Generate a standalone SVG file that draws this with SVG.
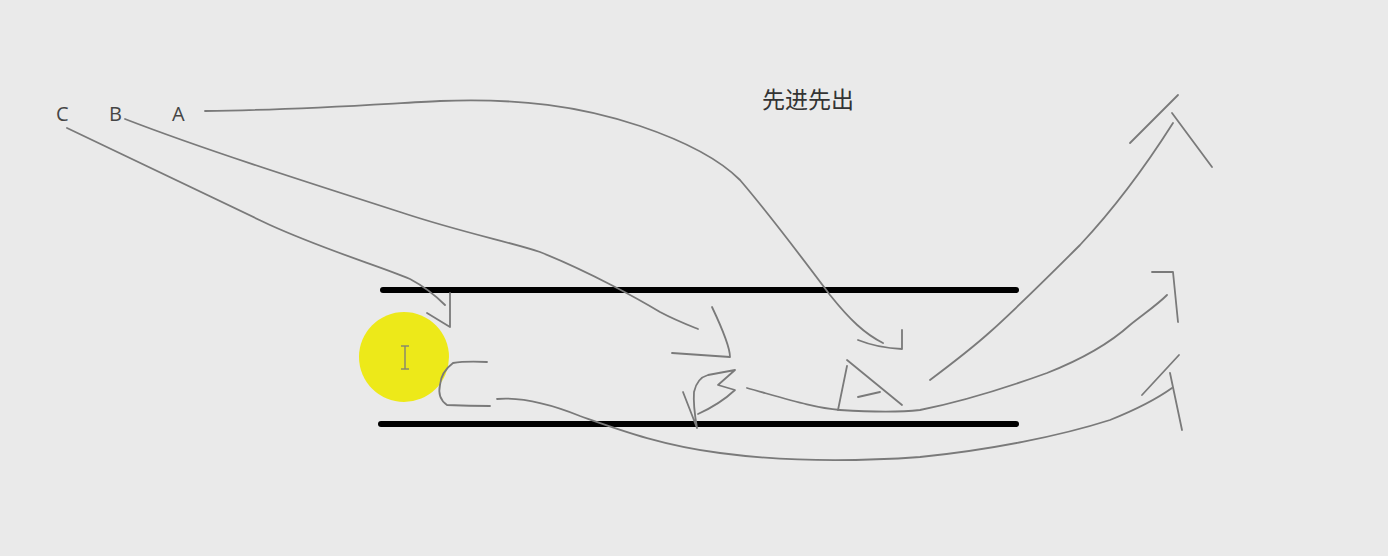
<svg xmlns="http://www.w3.org/2000/svg" width="1388" height="556" viewBox="0 0 1388 556">
<style>
.lbl{font-family:"Open Sans","Liberation Sans","Noto Sans CJK SC",sans-serif;fill:#454545}
.ttl{font-family:"Noto Sans CJK SC","Liberation Sans",sans-serif;fill:#333;font-size:23px}
.ink{fill:none;stroke:#7a7a7a;stroke-width:1.8;stroke-linecap:round;stroke-linejoin:round}
.bar{stroke:#000;stroke-width:6;stroke-linecap:round}
</style>
<rect width="1388" height="556" fill="#eaeaea"/>
<g id="title"><text class="ttl" x="762" y="108">先进先出</text></g>
<g id="node-C"><text class="lbl" x="56" y="121" font-size="20">C</text></g>
<g id="node-B"><text class="lbl" x="109" y="121" font-size="20">B</text></g>
<g id="node-A"><text class="lbl" x="172" y="121" font-size="20">A</text></g>
<g id="queue">
<line class="bar" x1="383" y1="290" x2="1016" y2="290"/>
<line class="bar" x1="381" y1="424" x2="1016" y2="424"/>
</g>
<g id="cursor">
<circle cx="404" cy="357" r="45" fill="#ede919"/>
<path d="M401,346 H409 M405,346 V369 M401,369 H409" fill="none" stroke="#8a8a6a" stroke-width="1.5"/>
</g>
<g id="connectors">
<path class="ink" d="M205,111 C300,110 380,104 440,101 C520,98 580,106 640,126 C690,143 720,160 740,180 C770,215 800,255 830,295 C850,320 865,334 883,343"/>
<path class="ink" d="M858,340 Q878,348 902,349 L902,330"/>
<path class="ink" d="M125,119 C200,148 300,180 400,212 C460,232 510,242 540,252 C590,272 640,300 660,312 C675,320 688,325 698,329"/>
<path class="ink" d="M712,307 Q730,345 730,357 L672,353"/>
<path class="ink" d="M67,128 C130,158 200,192 270,225 C330,252 380,266 410,279 C425,287 437,297 445,305"/>
<path class="ink" d="M450,293 L450,327 L427,313"/>
<path class="ink" d="M487,362 Q465,361 453,363 Q441,372 440,385 Q437,398 447,405 Q470,406 490,406"/>
<path class="ink" d="M683,392 L697,428 M697,428 Q693,405 694,392 Q697,378 708,375 L735,370 L718,385 L735,390 Q720,404 698,414"/>
<path class="ink" d="M847,366 L838,410 M847,360 L902,405 M858,397 L880,392"/>
<path class="ink" d="M497,399 C520,397 545,402 580,416 C620,430 660,445 720,453 C780,461 850,462 920,457 C990,450 1060,436 1110,420 C1140,408 1158,398 1172,388"/>
<path class="ink" d="M1142,395 L1179,355 M1170,373 L1182,430"/>
<path class="ink" d="M747,388 C790,400 815,408 840,410 C870,412 895,413 920,410 C960,402 1000,390 1047,373 C1080,360 1110,343 1130,325 C1145,313 1157,305 1167,295"/>
<path class="ink" d="M1152,272 L1173,272 L1178,322"/>
<path class="ink" d="M930,380 C950,365 970,350 990,332 C1020,305 1050,275 1080,245 C1110,213 1140,175 1173,123"/>
<path class="ink" d="M1130,143 L1178,95 M1172,113 L1212,167"/>
</g>
</svg>
